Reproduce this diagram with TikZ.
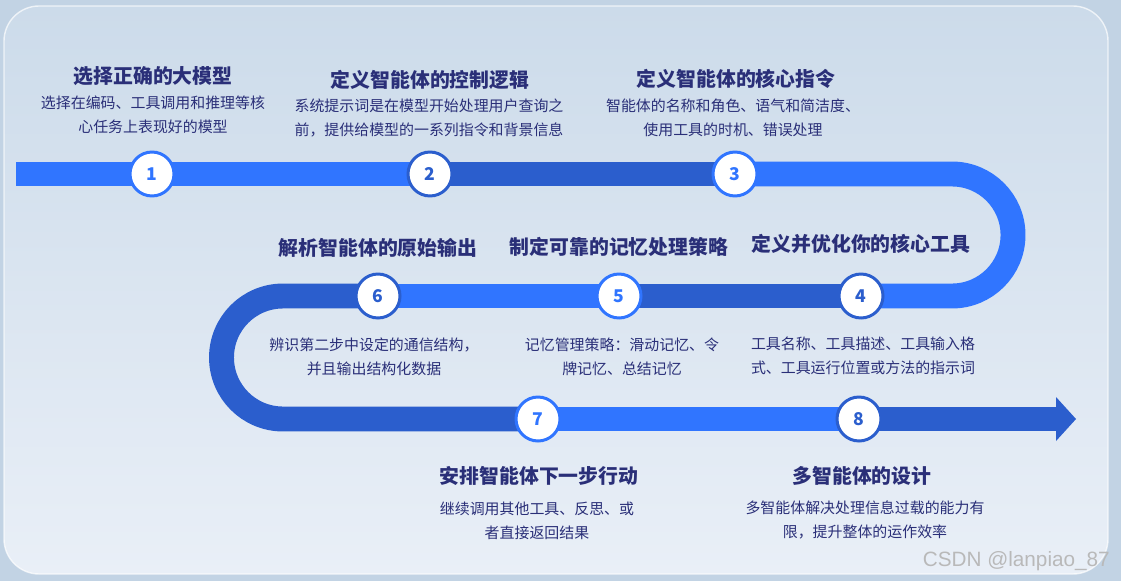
\documentclass[tikz,border=0pt]{standalone}
\usepackage{fontspec}
\newfontfamily\cjk{Noto Sans CJK SC}
\newfontfamily\wmfont{Liberation Sans}
\usepackage{tikz}
\usetikzlibrary{positioning, calc}
\definecolor{frame}{HTML}{C2D3E4}
\definecolor{paneltop}{HTML}{CCDBEA}
\definecolor{panelbot}{HTML}{E9EFF7}
\definecolor{lightblue}{HTML}{3075FF}
\definecolor{deepblue}{HTML}{2B5ECD}
\definecolor{ink}{HTML}{2A2F78}

\begin{document}
\begin{tikzpicture}[
  x=0.02cm, y=-0.02cm,
  band/.style={line width=14.2pt},
  bright/.style={band, draw=lightblue},
  deep/.style={band, draw=deepblue},
  stepnum/.style={circle, fill=white, minimum size=0.88cm, inner sep=0pt,
    line width=1.7pt, font=\cjk\bfseries\fontsize{10}{12}\selectfont},
  ttl/.style={font=\cjk\bfseries\fontsize{11.3}{13}\selectfont, text=ink},
  desc/.style={align=center, font=\cjk\fontsize{8.5}{13.6}\selectfont, text=ink},
]
  \useasboundingbox (0,0) rectangle (1121,581);

  % background panel
  \fill[frame] (0,0) rectangle (1121,581);
  \shade[top color=paneltop, bottom color=panelbot, rounded corners=20]
    (4,6) rectangle (1108,574);
  \draw[white, opacity=0.7, line width=0.8pt, rounded corners=20]
    (4,6) rectangle (1108,574);

  % track
  \coordinate (start) at (16,174);
  \coordinate (rtop) at (952,174);
  \coordinate (lmid) at (283,296);
  \coordinate (tipbase) at (1057,419);
  \coordinate (c1) at (152,174);
  \coordinate (c2) at (430,174);
  \coordinate (c3) at (735,174);
  \coordinate (c4) at (861,296);
  \coordinate (c5) at (619,296);
  \coordinate (c6) at (378,296);
  \coordinate (c7) at (538,419);
  \coordinate (c8) at (859,419);

  \draw[bright] (start) -- (c2);
  \draw[deep] (c2) -- (c3);
  \draw[bright] (c3) -- (rtop) arc[start angle=-90, end angle=90, radius=61] -- (c4);
  \draw[deep] (c4) -- (c5);
  \draw[bright] (c5) -- (c6);
  \draw[deep] (c6) -- (lmid) arc[start angle=-90, end angle=-270, radius=61.5] -- (c7);
  \draw[bright] (c7) -- (c8);
  \draw[deep] (c8) -- (tipbase);
  \fill[deepblue] (1056,397) -- (1076,419) -- (1056,441) -- cycle;

  % step circles
  \node[stepnum, draw=lightblue, text=lightblue] (s1) at (c1) {1};
  \node[stepnum, draw=deepblue, text=deepblue] (s2) at (c2) {2};
  \node[stepnum, draw=lightblue, text=lightblue] (s3) at (c3) {3};
  \node[stepnum, draw=deepblue, text=deepblue] (s4) at (c4) {4};
  \node[stepnum, draw=lightblue, text=lightblue] (s5) at (c5) {5};
  \node[stepnum, draw=deepblue, text=deepblue] (s6) at (c6) {6};
  \node[stepnum, draw=lightblue, text=lightblue] (s7) at (c7) {7};
  \node[stepnum, draw=deepblue, text=deepblue] (s8) at (c8) {8};

  % titles
  \node[ttl] (t1) at (153,76) {选择正确的大模型};
  \node[ttl] (t2) at (430,80) {定义智能体的控制逻辑};
  \node[ttl] (t3) at (736,79) {定义智能体的核心指令};
  \node[ttl] (t4) at (861,244) {定义并优化你的核心工具};
  \node[ttl] (t5) at (619,247) {制定可靠的记忆处理策略};
  \node[ttl] (t6) at (378,248) {解析智能体的原始输出};
  \node[ttl] (t7) at (539,476) {安排智能体下一步行动};
  \node[ttl] (t8) at (862,476) {多智能体的设计};

  % descriptions
  \node[desc] (d1) at (153,115) {选择在编码、工具调用和推理等核\\心任务上表现好的模型};
  \node[desc] (d2) at (429,118) {系统提示词是在模型开始处理用户查询之\\前，提供给模型的一系列指令和背景信息};
  \node[desc] (d3) at (733,118) {智能体的名称和角色、语气和简洁度、\\使用工具的时机、错误处理};
  \node[desc] (d4) at (863,356) {工具名称、工具描述、工具输入格\\式、工具运行位置或方法的指示词};
  \node[desc] (d5) at (622,357) {记忆管理策略：滑动记忆、令\\牌记忆、总结记忆};
  \node[desc] (d6) at (374,357) {辨识第二步中设定的通信结构，\\并且输出结构化数据};
  \node[desc] (d7) at (537,521) {继续调用其他工具、反思、或\\者直接返回结果};
  \node[desc] (d8) at (865,520) {多智能体解决处理信息过载的能力有\\限，提升整体的运作效率};

  \node[font=\wmfont\fontsize{11.8}{14}\selectfont, text=gray!55, anchor=east]
    (mark) at (1116,561) {CSDN @lanpiao\_87};
\end{tikzpicture}
\end{document}
